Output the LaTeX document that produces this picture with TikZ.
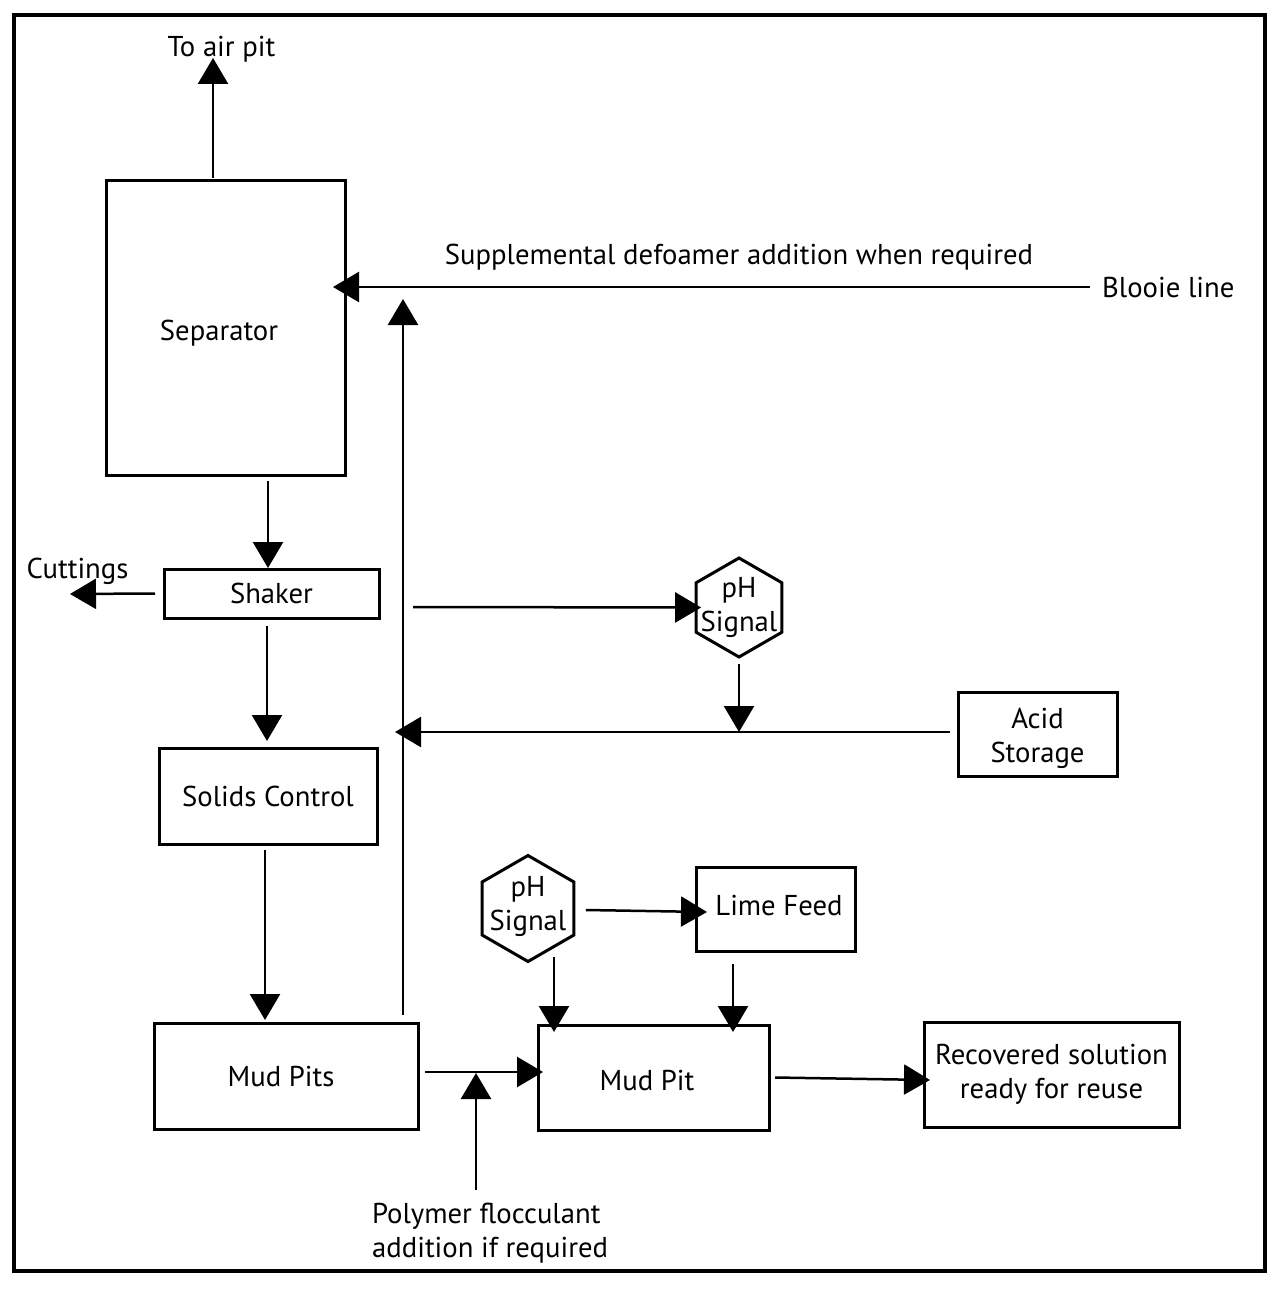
\documentclass[tikz,border=0pt]{standalone}
\usepackage{fontspec}
\setmainfont{PT Sans}
\usetikzlibrary{arrows.meta,shapes.geometric,calc}
\newcommand\dfont{\fontsize{28.7}{34}\selectfont}
\begin{document}
\begin{tikzpicture}[x=1pt,y=-1pt,
  box/.style={draw,line width=3pt,inner sep=0pt,outer sep=0pt,align=center,font=\dfont},
  hexa/.style={draw,line width=3pt,regular polygon,regular polygon sides=6,shape border rotate=30,inner sep=0pt,outer sep=0pt},
  lbl/.style={inner sep=0pt,font=\dfont},
  arr/.style={line width=2.5pt,-{Triangle[length=26pt,width=30pt]}}]
\useasboundingbox (0,0) rectangle (1283,1289);
\draw[line width=4.5pt] (14,15) rectangle (1265,1271);

% boxes
\node[box,minimum width=239pt,minimum height=294pt,label={[lbl,xshift=-6.5pt,yshift=-5pt]center:Separator}] (sep) at (225.5,328) {};
\node[box,minimum width=215pt,minimum height=49pt] (shaker) at (271.5,593.5) {Shaker};
\node[box,minimum width=218pt,minimum height=96pt] (solids) at (268,796) {Solids Control};
\node[box,minimum width=264pt,minimum height=106pt,label={[lbl,xshift=-5pt]center:Mud Pits}] (mudpits) at (286,1076) {};
\node[box,minimum width=159pt,minimum height=84pt,label={[lbl,align=center,yshift=-4pt]center:Acid\\Storage}] (acid) at (1037.5,734) {};
\node[box,minimum width=159pt,minimum height=84pt,label={[lbl,xshift=3.5pt,yshift=3pt]center:Lime Feed}] (lime) at (775.5,909) {};
\node[box,minimum width=231pt,minimum height=105pt,label={[lbl,xshift=-6.5pt,yshift=-3pt]center:Mud Pit}] (mudpit) at (653.5,1077.5) {};
\node[box,minimum width=255pt,minimum height=105pt] (recov) at (1051.5,1074.5) {Recovered solution\\ready for reuse};
\node[hexa,minimum size=99pt,label={[lbl,align=center]center:pH\\Signal}] (ph1) at (739,607.5) {};
\node[hexa,minimum size=106pt,label={[lbl,align=center,yshift=2pt]center:pH\\Signal}] (ph2) at (528,908.5) {};

% labels
\node[lbl,anchor=base] (airlbl) at (221.5,57) {To air pit};
\node[lbl,anchor=base] (supp) at (739,265) {Supplemental defoamer addition when required};
\node[lbl,anchor=base west] (blooielbl) at (1102,297) {Blooie line};
\node[lbl,anchor=base] (cutlbl) at (77.5,578) {Cuttings};
\node[lbl,anchor=north west,align=left] (poly) at (372,1203) {Polymer flocculant\\addition if required};

% coordinates
\coordinate (airpit) at (213,58);
\coordinate (blooie) at (1090,287);
\coordinate (rettop) at (403,299);
\coordinate (cut) at (70,594);
\coordinate (br1) at (413,607);
\coordinate (j1) at (739,732);
\coordinate (acidend) at (395,732);
\coordinate (j2) at (476,1073);
\coordinate (polybot) at (476,1190);

% connectors
\draw[arr] ($(sep.north)+(-12.5,-3)$) -- (airpit);
\draw[arr] (blooie) -- ($(sep.east |- blooie)+(-12,0)$);
\draw[arr] ($(mudpits.north east)+(-15,-8)$) -- (rettop);
\draw[arr] ($(sep.south)+(42.5,6)$) -- ($(shaker.north)+(-3.5,-1)$);
\draw[arr] ($(shaker.west)+(-9,0)$) -- (cut);
\draw[arr] ($(shaker.south)+(-4.5,8)$) -- ($(solids.north)+(-1,-7)$);
\draw[arr] ($(solids.south)+(-3,6)$) -- ($(mudpits.north)+(-21,-3)$);
\draw[arr] (br1) -- ($(ph1.west)+(5,0)$);
\draw[arr] ($(ph1.south)+(0,7)$) -- (j1);
\draw[arr] ($(acid.west)+(-8,-2)$) -- (acidend);
\draw[arr] ($(ph2.east)+(12,1.5)$) -- ($(lime.west)+(11,3)$);
\draw[arr] ($(ph2.center)+(26,48.5)$) -- ($(mudpit.north west)+(16,7)$);
\draw[arr] ($(lime.south)+(-42.5,13)$) -- ($(mudpit.north east)+(-36,7)$);
\draw[arr] ($(mudpits.east)+(7,-4)$) -- ($(mudpit.west)+(5,-5.5)$);
\draw[arr] (polybot) -- (j2);
\draw[arr] ($(mudpit.east)+(6,0)$) -- ($(recov.west)+(6,5.5)$);
\end{tikzpicture}
\end{document}
